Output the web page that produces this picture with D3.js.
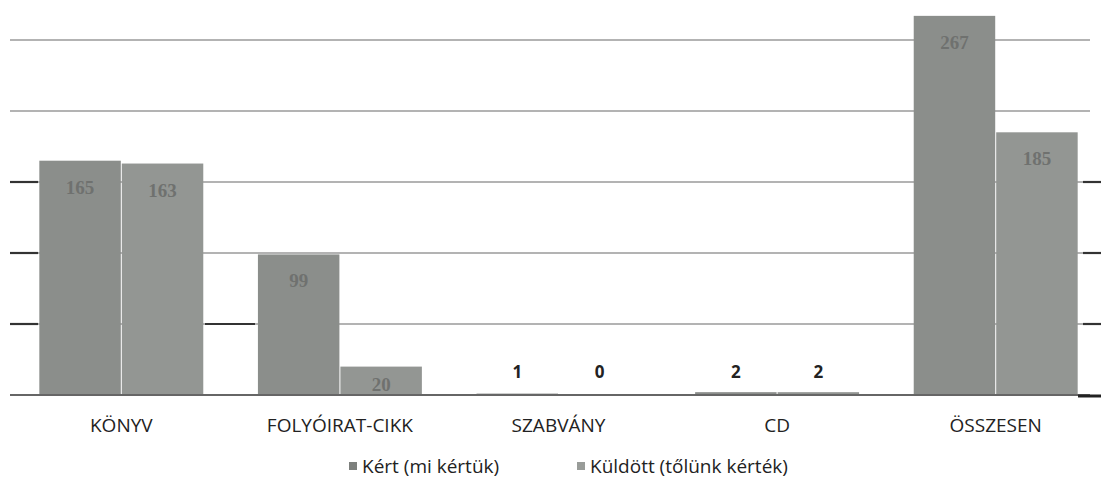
<!DOCTYPE html>
<html>
<head>
<meta charset="utf-8">
<script src="https://cdn.jsdelivr.net/npm/d3@7"></script>
<style>
  html, body { margin: 0; padding: 0; background: #fff; }
  svg { display: block; }
</style>
</head>
<body>
<svg id="chart" width="1101" height="490"></svg>
<script>
const categories = ["KÖNYV", "FOLYÓIRAT-CIKK", "SZABVÁNY", "CD", "ÖSSZESEN"];
const seriesNames = ["Kért (mi kértük)", "Küldött (tőlünk kérték)"];
const kert = [165, 99, 1, 2, 267];
const kuldott = [163, 20, 0, 2, 185];
const gridTicks = [0, 50, 100, 150, 200, 250];

const svg = d3.select("#chart");
const baseY = 395;
const x = d3.scaleBand().domain(categories).range([12, 1105]).paddingInner(0.25).paddingOuter(0.125);
const xs = d3.scaleBand().domain([0, 1]).range([0, x.bandwidth()]).paddingInner(0.012);
const y = d3.scaleLinear().domain([0, 250]).range([baseY, 40]);
const colors = ["#8b8e8b", "#939693"];

// gridlines
const grid = svg.append("g");
grid.selectAll("line.g").data(gridTicks.slice(1)).enter().append("line")
  .attr("x1", 10).attr("x2", 1090)
  .attr("y1", d => y(d)).attr("y2", d => y(d))
  .attr("stroke", "#9a9a9a").attr("stroke-width", 1.4);
// darker end segments (tick-like)
grid.selectAll("line.l").data([50, 100, 150]).enter().append("line")
  .attr("x1", 10).attr("x2", 38).attr("y1", d => y(d)).attr("y2", d => y(d))
  .attr("stroke", "#333").attr("stroke-width", 2.2);
grid.selectAll("line.r").data([50, 100, 150]).enter().append("line")
  .attr("x1", 1083).attr("x2", 1101).attr("y1", d => y(d)).attr("y2", d => y(d))
  .attr("stroke", "#333").attr("stroke-width", 2.2);
grid.append("line").attr("x1", 205).attr("x2", 255).attr("y1", y(50)).attr("y2", y(50))
  .attr("stroke", "#333").attr("stroke-width", 2);

// bars
const data = categories.map((c, i) => ({ c, vals: [kert[i], kuldott[i]] }));
const groups = svg.append("g").selectAll("g").data(data).enter().append("g")
  .attr("transform", d => `translate(${x(d.c)},0)`);
groups.selectAll("rect").data(d => d.vals.map((v, s) => ({ v, s }))).enter().append("rect")
  .attr("x", d => xs(d.s)).attr("width", xs.bandwidth())
  .attr("y", d => y(d.v)).attr("height", d => baseY - y(d.v))
  .attr("fill", d => colors[d.s]);

// value labels
groups.selectAll("text").data(d => d.vals.map((v, s) => ({ v, s }))).enter().append("text")
  .attr("x", d => xs(d.s) + xs.bandwidth() / 2)
  .attr("y", d => d.v < 10 ? baseY - 17 : Math.min(y(d.v) + 33, baseY - 4))
  .attr("text-anchor", "middle")
  .attr("font-family", d => d.v < 10 ? "'Open Sans', sans-serif" : "'Liberation Serif', serif")
  .attr("font-weight", "bold")
  .attr("font-size", d => d.v < 10 ? 17 : 19)
  .attr("fill", d => d.v < 10 ? "#222" : "#6f716f")
  .text(d => d.v);

// baseline
svg.append("line").attr("x1", 10).attr("x2", 1090).attr("y1", baseY).attr("y2", baseY)
  .attr("stroke", "#666").attr("stroke-width", 2);
svg.append("line").attr("x1", 1078).attr("x2", 1101).attr("y1", baseY + 1).attr("y2", baseY + 1)
  .attr("stroke", "#222").attr("stroke-width", 3);

// x-axis labels
const xAxis = d3.axisBottom(x).tickSize(0).tickPadding(0);
const xg = svg.append("g").attr("transform", `translate(0,${baseY + 24})`).call(xAxis);
xg.select(".domain").remove();
xg.selectAll("text").attr("font-family", "'Open Sans', sans-serif").attr("font-size", 19).attr("fill", "#222").attr("dy", "0.7em");

// legend
const legend = svg.append("g").attr("font-family", "'Open Sans', sans-serif").attr("font-size", 19).attr("fill", "#222");
const legX = [349, 577];
seriesNames.forEach((n, i) => {
  legend.append("rect").attr("x", legX[i]).attr("y", 462).attr("width", 8).attr("height", 8).attr("fill", i === 0 ? "#7d807d" : "#999c99");
  legend.append("text").attr("x", legX[i] + 13).attr("y", 473).text(n);
});
</script>
</body>
</html>
